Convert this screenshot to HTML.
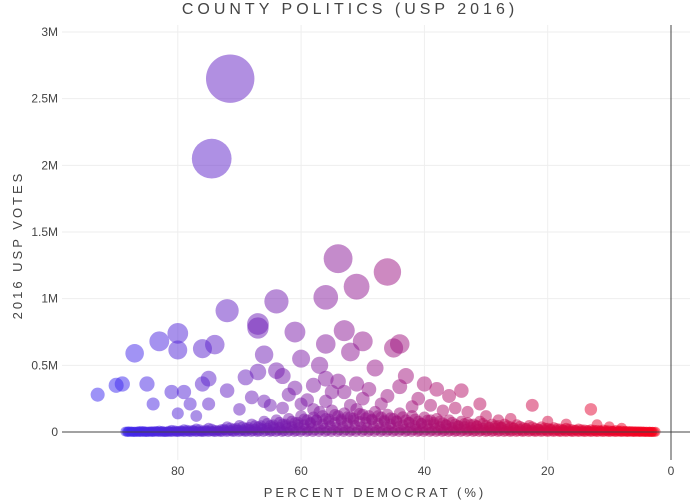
<!DOCTYPE html>
<html><head><meta charset="utf-8"><style>
body{margin:0;background:#fff;}
svg{display:block;font-family:"Liberation Sans",sans-serif;}
</style></head><body>
<svg id="chart" width="700" height="500">
<text x="350" y="14" text-anchor="middle" font-size="16" fill="#444" letter-spacing="4">COUNTY POLITICS (USP 2016)</text>
<g id="grid"></g><g id="marks"></g><g id="axes"></g>
<text x="375" y="497" text-anchor="middle" font-size="13" fill="#444" letter-spacing="3">PERCENT DEMOCRAT (%)</text>
<text transform="translate(22,245) rotate(-90)" text-anchor="middle" font-size="13" fill="#444" letter-spacing="3">2016 USP VOTES</text>
</svg>
<script>
const xTicks=[80,60,40,20,0];
const yTicks=[0,500,1000,1500,2000,2500,3000];
const yTickLabels=["0","0.5M","1M","1.5M","2M","2.5M","3M"];
// percent democrat, votes (thousands)
const bigPct=[71.5,74.5,54,46,51,56,64,72,67,67,61,80,50,74,83,44,76,80,53,56,52,45,87,66,60,57,64,67,63,48,43,56,54,51,40,38,34,41,36,31,46,49,44,53,58,61,55,75,76,69,72,79,81,84,89,90,93,85,78,80,77,75,70,66,65,68,62,59,58,63,60,22.5,13,30,26,35,33,39,42,47,37,28,20,17,12,10,8,50,56,52];
const bigVotes=[2650,2050,1300,1200,1090,1010,980,910,810,780,750,740,680,655,680,660,625,615,760,660,600,630,590,580,550,500,460,450,420,480,420,400,380,360,360,320,310,250,270,210,270,320,340,300,350,330,300,400,360,410,310,300,300,210,360,350,280,360,210,140,120,210,170,230,200,260,280,240,170,180,210,200,170,120,100,180,150,200,190,210,160,90,80,60,55,40,30,250,230,200];
const bandPct=[88,87,86,85,84,83,82,81,80,79,78,77,76,75,74,73,72,71,70,69,68,67,66,65,64,63,62,61,60,59,58,57,56,55,54,53,52,51,50,49,48,47,46,45,44,43,42,41,40,39,38,37,36,35,34,33,32,31,30,29,28,27,26,25,24,23,22,21,20,19,18,17,16,15,14,13,12,11,10,9,8,7,6,5,4,3];
const bandVotes=[5,3,8,4,6,10,3,15,8,20,12,25,10,30,15,20,40,25,50,30,60,40,80,50,90,60,100,70,120,90,110,150,100,160,120,140,110,170,130,120,150,110,130,100,140,90,120,80,110,90,100,70,90,60,80,70,60,80,50,60,50,60,40,55,35,50,30,40,30,35,25,30,20,25,18,20,15,18,12,14,10,8,6,5,3,2];
const X=p=>671-p*6.165, Y=v=>432-v*0.13333;
const NS="http://www.w3.org/2000/svg";
const grid=document.getElementById('grid'),marks=document.getElementById('marks'),axes=document.getElementById('axes');
function mk(tag,at,parent){const e=document.createElementNS(NS,tag);for(const k in at)e.setAttribute(k,at[k]);parent.appendChild(e);return e;}
xTicks.forEach(t=>{
 if(t!==0){const l=mk('line',{x1:X(t),x2:X(t),y1:25,y2:460,stroke:'#eee'},grid);
 
 }
 const tx=mk('text',{x:X(t),y:475,'text-anchor':'middle','font-size':12,fill:'#444'},axes);tx.textContent=t;
 
 
});
yTicks.forEach((t,i)=>{
 if(t!==0){const l=mk('line',{x1:62,x2:690,y1:Y(t),y2:Y(t),stroke:'#eee'},grid);
 
 }
 const tx=mk('text',{x:58,y:Y(t)+4,'text-anchor':'end','font-size':12,fill:'#444'},axes);tx.textContent=yTickLabels[i];
 
 
});
const zx=mk('line',{x1:62,x2:690,y1:Y(0),y2:Y(0),stroke:'#444','stroke-width':1},axes);


const zy=mk('line',{x1:X(0),x2:X(0),y1:25,y2:460,stroke:'#444','stroke-width':1},axes);


function col(p){const t=Math.max(0,Math.min(1,p/90));return `rgb(${Math.round(255*(1-t)+60*t)},${Math.round(40*t)},${Math.round(240*t+20*(1-t))})`;}
function dot(p,v){const r=(10+v*0.0145)/2;
 const c=mk('circle',{cx:X(p),cy:Y(v),r:r,fill:col(p),'fill-opacity':0.5},marks);
 
 }
bandPct.forEach((p,i)=>{const v=bandVotes[i];
 dot(p,v); dot(p+0.5,v*0.6); dot(p-0.5,v*0.8); dot(p+0.25,v*0.3); dot(p-0.25,v*0.1); dot(p+0.1,0);});
bigPct.forEach((p,i)=>dot(p,bigVotes[i]));
</script>
</body></html>
